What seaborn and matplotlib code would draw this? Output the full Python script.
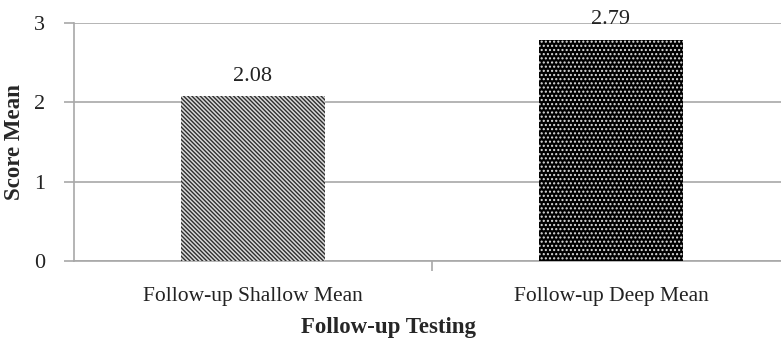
import matplotlib
matplotlib.use("Agg")
import matplotlib.pyplot as plt
import seaborn as sns
import pandas as pd

categories = ["Follow-up Shallow Mean", "Follow-up Deep Mean"]
values = [2.08, 2.79]
value_labels = ["2.08", "2.79"]
y_ticks = [0, 1, 2, 3]

sns.set_style("white")
plt.rcParams['font.family'] = ['Liberation Serif', 'DejaVu Serif']
plt.rcParams['hatch.linewidth'] = 1.0

df = pd.DataFrame({"cat": categories, "val": values})

fig = plt.figure(figsize=(7.81, 3.45), dpi=100)
ax = fig.add_axes([0.0947, 0.2435, 1.0115 - 0.0947, 0.9333 - 0.2435])

sns.barplot(data=df, x="cat", y="val", ax=ax, width=0.40, zorder=3)

patches = ax.patches
# Shallow: grey/white fine diagonal stripes
patches[0].set_facecolor("#d8d8d8")
patches[0].set_edgecolor("#2e2e2e")
patches[0].set_hatch("\\" * 8)
patches[0].set_linewidth(0)
# Deep: black with small white dots
patches[1].set_facecolor("black")
patches[1].set_edgecolor("#dddddd")
patches[1].set_hatch("....")
patches[1].set_linewidth(0)

for p, lab in zip(patches, value_labels):
    ax.text(p.get_x() + p.get_width() / 2, p.get_height() + 0.13, lab,
            ha="center", va="bottom", fontsize=16, color="#222222", clip_on=False)

ax.set_ylim(0, 3)
ax.set_xlim(-0.5, 1.5)
ax.set_yticks(y_ticks)
ax.set_yticklabels([str(t) for t in y_ticks], fontsize=16, color="#222222")
ax.set_xticks([0.5])
ax.set_xticklabels([""])
for i, c in enumerate(categories):
    ax.text(i, -0.45, c, ha="center", va="center", fontsize=15.5, color="#222222",
            clip_on=False)

ax.yaxis.grid(True, color="#a8a8a8", linewidth=1.2, zorder=0)
ax.set_axisbelow(True)
for s in ["top", "right"]:
    ax.spines[s].set_visible(False)
for s in ["left", "bottom"]:
    ax.spines[s].set_color("#a8a8a8")
    ax.spines[s].set_linewidth(1.2)
ax.tick_params(axis="y", which="both", left=True, length=7, width=1.2, color="#a8a8a8", pad=14)
ax.tick_params(axis="x", which="both", bottom=True, length=7, width=1.2, color="#a8a8a8")

ax.set_ylabel("Score Mean", fontsize=16.5, fontweight="bold", labelpad=6)
ax.set_xlabel("")
fig.text(0.498, 0.052, "Follow-up Testing", ha="center", va="center",
         fontsize=16.5, fontweight="bold")

fig.savefig("out.png", dpi=100)
